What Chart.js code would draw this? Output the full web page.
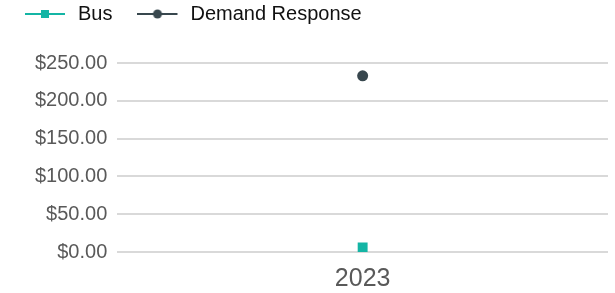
<!DOCTYPE html>
<html>
<head>
<meta charset="utf-8">
<script src="https://cdn.jsdelivr.net/npm/chart.js@4/dist/chart.umd.min.js"></script>
<style>
html,body{margin:0;padding:0;background:#fff;}
#wrap{width:615px;height:293px;position:relative;}
</style>
</head>
<body>
<div id="wrap"><canvas id="c" width="615" height="293"></canvas></div>
<script>
const categories = ["2023"];
const busValues = [6];
const demandResponseValues = [233];
const seriesNames = ["Bus", "Demand Response"];
const seriesColors = ["#14b5a5", "#38474e"];
const seriesMarkers = ["rect", "circle"];

function legendIcon(color, marker) {
  const cv = document.createElement('canvas');
  cv.width = 43; cv.height = 12;
  const ctx = cv.getContext('2d');
  ctx.strokeStyle = color; ctx.lineWidth = 2;
  ctx.beginPath(); ctx.moveTo(0, 6); ctx.lineTo(40, 6); ctx.stroke();
  ctx.fillStyle = color;
  if (marker === 'rect') { ctx.fillRect(16, 2, 8, 8); }
  else { ctx.beginPath(); ctx.arc(20, 6, 4.5, 0, Math.PI * 2); ctx.fill(); }
  return cv;
}

const datasets = [busValues, demandResponseValues].map((vals, i) => ({
  label: seriesNames[i],
  data: vals,
  borderColor: seriesColors[i],
  backgroundColor: seriesColors[i],
  pointStyle: seriesMarkers[i],
  pointRadius: seriesMarkers[i] === 'rect' ? 7 : 5.5,
  pointBorderWidth: 0,
  showLine: false
}));

const LEGEND_PAD = 25;
const legendTweak = {
  id: 'legendTweak',
  beforeInit(chart) {
    const origFit = chart.legend.fit;
    chart.legend.fit = function () {
      origFit.bind(chart.legend)();
      this.height = 63;
    };
  },
  afterLayout(chart) {
    const lg = chart.legend;
    lg.left -= LEGEND_PAD;
    lg.top -= 21;
  }
};

new Chart(document.getElementById('c'), {
  type: 'line',
  data: { labels: categories, datasets },
  plugins: [legendTweak],
  options: {
    responsive: false,
    animation: false,
    layout: { padding: { left: 25, right: 7, top: 0, bottom: -6 } },
    plugins: {
      tooltip: { enabled: false },
      legend: {
        position: 'top',
        align: 'start',
        labels: {
          usePointStyle: true,
          pointStyleWidth: 43,
          boxHeight: 12,
          font: { family: 'Liberation Sans, Arial', size: 20 },
          color: '#111',
          padding: LEGEND_PAD,
          generateLabels: (chart) => chart.data.datasets.map((ds, i) => ({
            text: ds.label,
            pointStyle: legendIcon(seriesColors[i], seriesMarkers[i]),
            fillStyle: seriesColors[i],
            strokeStyle: seriesColors[i],
            datasetIndex: i,
            fontColor: '#111'
          }))
        }
      }
    },
    scales: {
      x: {
        offset: true,
        grid: { display: false },
        border: { display: false },
        ticks: { font: { family: 'Liberation Sans, Arial', size: 25, lineHeight: 1 }, color: '#595959', padding: 7 }
      },
      y: {
        min: 0, max: 250,
        grid: { color: '#d9d9d9', lineWidth: 2, drawTicks: false },
        border: { display: false },
        ticks: {
          stepSize: 50,
          padding: 10,
          font: { family: 'Liberation Sans, Arial', size: 20 },
          color: '#595959',
          callback: v => '$' + Number(v).toFixed(2)
        }
      }
    }
  }
});
</script>
</body>
</html>
